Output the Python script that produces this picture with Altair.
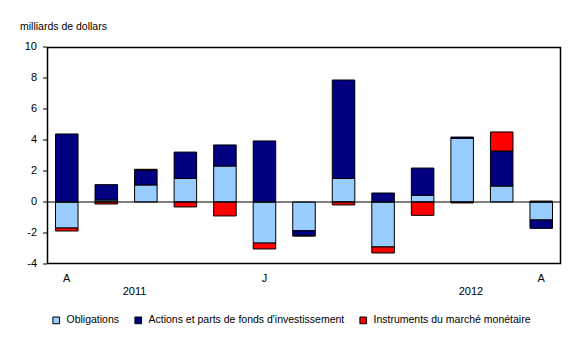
import altair as alt
import pandas as pd

# Monthly net flows, billions of dollars (Aug 2011 - Aug 2012)
months = ["2011-08", "2011-09", "2011-10", "2011-11", "2011-12", "2012-01",
          "2012-02", "2012-03", "2012-04", "2012-05", "2012-06", "2012-07", "2012-08"]
month_letters = ["A", "", "", "", "", "J", "", "", "", "", "", "", "A"]

series_names = ["Obligations",
                "Actions et parts de fonds d'investissement",
                "Instruments du marché monétaire"]
series_colors = ["#99CCFF", "#000080", "#FF0000"]

obligations = [-1.68, 0.13, 1.10, 1.52, 2.32, -2.65, -1.85, 1.52, -2.90, 0.43, 4.10, 1.03, -1.16]
actions = [4.39, 0.99, 0.96, 1.70, 1.36, 3.94, -0.32, 6.35, 0.58, 1.76, 0.09, 2.26, -0.54]
monetaire = [-0.19, -0.13, 0.05, -0.32, -0.90, -0.38, -0.03, -0.19, -0.39, -0.86, -0.06, 1.23, 0.06]

y_ticks = [-4, -2, 0, 2, 4, 6, 8, 10]
y_title = "milliards de dollars"

year_labels = ["2011", "2012"]
year_anchor = ["2011-10", "2012-06"]
year_shift = [0, 20]

rows = []
for i, m in enumerate(months):
    for k, vals in enumerate([obligations, actions, monetaire]):
        rows.append({"mois": m, "serie": series_names[k], "ordre": k, "valeur": vals[i]})
df = pd.DataFrame(rows)

W, H = 514, 217
FONT = "Liberation Sans"
y_scale = alt.Scale(domain=[y_ticks[0], y_ticks[-1]], nice=False, zero=False)
x_scale = alt.Scale(paddingInner=0.43, paddingOuter=0.215)

bars = alt.Chart(df).mark_bar(stroke="black", strokeWidth=1).encode(
    x=alt.X("mois:N", sort=months, scale=x_scale, axis=None),
    y=alt.Y("sum(valeur):Q", stack="zero", scale=y_scale, axis=None),
    color=alt.Color("serie:N", sort=series_names,
                    scale=alt.Scale(domain=series_names, range=series_colors),
                    legend=alt.Legend(title=None, orient="none", direction="horizontal",
                                      legendX=4, legendY=268,
                                      symbolType="square", symbolSize=45,
                                      symbolStrokeColor="black", symbolStrokeWidth=1,
                                      labelFontSize=10.5, labelFont=FONT,
                                      labelColor="black", labelOffset=5, labelLimit=0,
                                      columnPadding=12)),
    order=alt.Order("ordre:Q", sort="ascending"),
)

zero = alt.Chart(pd.DataFrame({"y": [0]})).mark_rule(color="black", strokeWidth=1).encode(
    y=alt.Y("y:Q", scale=y_scale, axis=None))

# plot-area frame, kept just inside the plot edges
frame = alt.Chart(pd.DataFrame({"f": [0]})).mark_rect(
    fill="white", fillOpacity=0, stroke="black", strokeWidth=1.5, strokeOpacity=1, clip=False
).encode(x=alt.value(0.5), x2=alt.value(W - 0.5), y=alt.value(0.5), y2=alt.value(H - 0.5))

# y-axis: tick marks, tick labels and title
tick_df = pd.DataFrame({"v": y_ticks, "lbl": [str(t) for t in y_ticks]})
y_tick_marks = alt.Chart(tick_df).mark_rule(color="black", strokeWidth=1).encode(
    y=alt.Y("v:Q", scale=y_scale, axis=None),
    x=alt.value(-4), x2=alt.value(0))
y_tick_labels = alt.Chart(tick_df).mark_text(
    fontSize=11, font=FONT, color="black", align="right", baseline="middle"
).encode(y=alt.Y("v:Q", scale=y_scale, axis=None), x=alt.value(-10), text="lbl:N")
y_title_text = alt.Chart(pd.DataFrame({"t": [y_title]})).mark_text(
    fontSize=10.5, font=FONT, color="black", align="left", baseline="middle"
).encode(x=alt.value(-27), y=alt.value(-20), text="t:N")

# x-axis: month initials under the bands
month_df = pd.DataFrame({"mois": months, "lettre": month_letters})
x_labels = alt.Chart(month_df).mark_text(
    fontSize=11, font=FONT, color="black", align="center", baseline="top"
).encode(x=alt.X("mois:N", sort=months, scale=x_scale, axis=None),
         y=alt.value(H + 9), text="lettre:N")

years = alt.Chart(pd.DataFrame({"mois": year_anchor, "annee": year_labels, "dx": year_shift})).mark_text(
    fontSize=11, font=FONT, color="black", baseline="middle"
).encode(
    x=alt.X("mois:N", sort=months, scale=x_scale, axis=None),
    xOffset=alt.XOffset("dx:Q", scale=None),
    y=alt.value(245),
    text="annee:N",
)

chart = alt.layer(bars, zero, y_tick_marks, y_tick_labels, y_title_text,
                  x_labels, years, frame).properties(
    width=W, height=H,
    autosize=alt.AutoSizeParams(type="none"),
    padding={"left": 47, "top": 47, "right": 27, "bottom": 82},
    background="white",
).configure_view(stroke=None)

chart.save("out.html", embed_options={"renderer": "svg", "actions": False})
